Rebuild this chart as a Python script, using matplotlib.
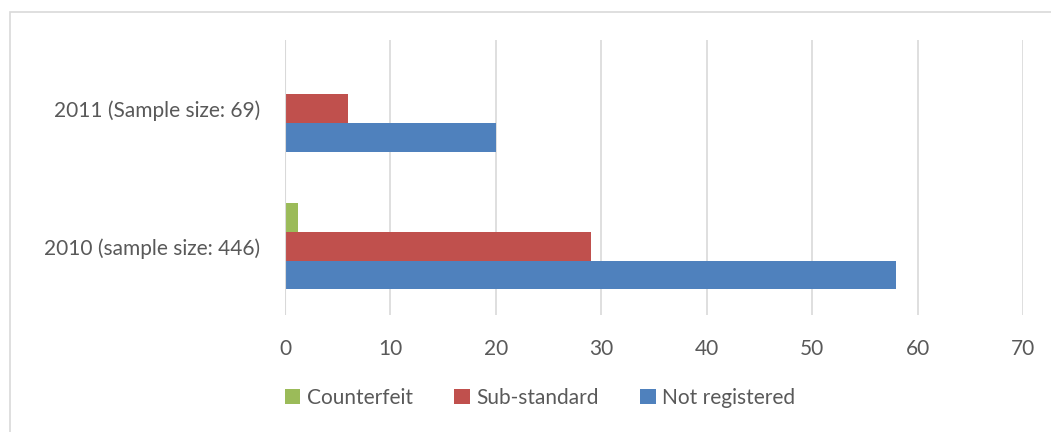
import matplotlib
matplotlib.use("Agg")
import matplotlib.pyplot as plt
from matplotlib.patches import Rectangle
import numpy as np

categories = ["2010 (sample size: 446)", "2011 (Sample size: 69)"]
series_names = ["Counterfeit", "Sub-standard", "Not registered"]
counterfeit = [1.2, 0]
sub_standard = [29, 6]
not_registered = [58, 20]
colors = ["#9bbb59", "#c0504d", "#4f81bd"]
x_ticks = [0, 10, 20, 30, 40, 50, 60, 70]

plt.rcParams['font.family'] = ['Lato', 'DejaVu Sans']
W, H = 1051, 432
fig = plt.figure(figsize=(W / 100, H / 100), dpi=100)

# outer frame
fig.patches.append(Rectangle((10 / W, 0 - 0.01), 1.1, (H - 12) / H + 0.01,
                             transform=fig.transFigure, fill=False,
                             edgecolor="#d9d9d9", linewidth=1.2, zorder=0))

ax = fig.add_axes([285 / W, 1 - 315 / H, (1023 - 285) / W, (315 - 40) / H])
y = np.arange(len(categories))
h = 28.7 / 137.5
data = [counterfeit, sub_standard, not_registered]
offsets = [h, 0, -h]
for vals, off, c, name in zip(data, offsets, colors, series_names):
    ax.barh(y + off, vals, height=h, color=c, label=name, zorder=3)

ax.set_xlim(0, 70)
ax.set_ylim(-0.5, 1.5)
ax.set_xticks(x_ticks)
ax.set_yticks(y)
ax.set_yticklabels(categories)
ax.grid(axis="x", color="#d9d9d9", linewidth=1.2, zorder=0)
for s in ax.spines.values():
    s.set_visible(False)
ax.axvline(0, color="#d9d9d9", linewidth=1.5, zorder=4)
ax.tick_params(axis="both", length=0, labelsize=15, colors="#595959")
ax.tick_params(axis="x", pad=17)
ax.tick_params(axis="y", pad=18)

handles, labels = ax.get_legend_handles_labels()
fig.legend(handles, labels, loc="center", bbox_to_anchor=(540 / W, 1 - 398 / H),
           ncol=3, frameon=False, fontsize=15, labelcolor="#595959",
           handlelength=0.75, handleheight=0.75, handletextpad=0.3, columnspacing=2.0)

fig.savefig("out.png", dpi=100)
